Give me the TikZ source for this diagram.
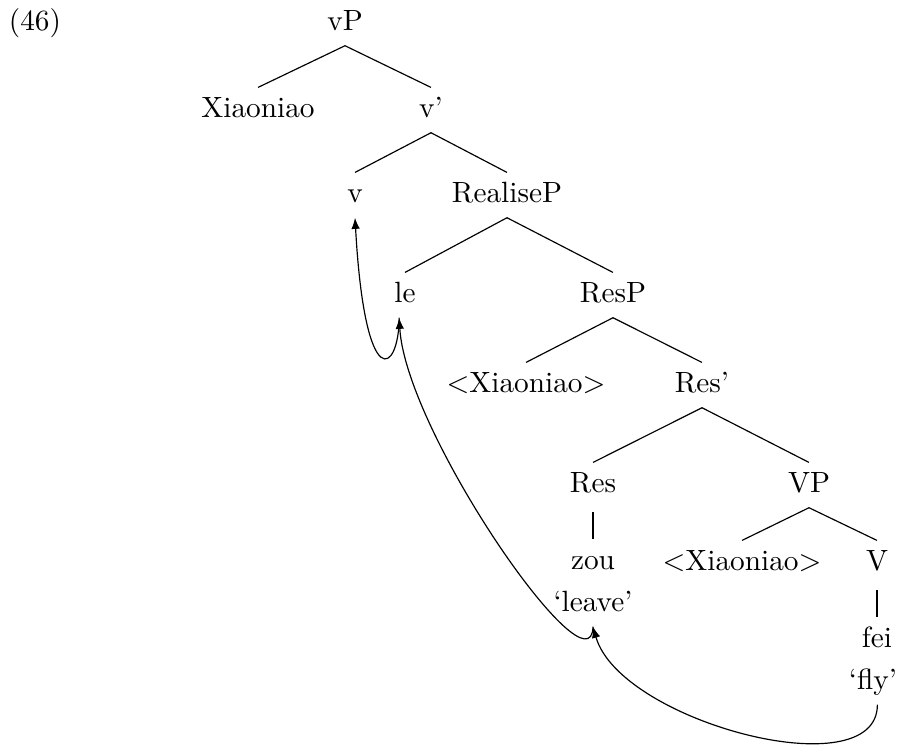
\documentclass[tikz,border=0pt]{standalone}
\usetikzlibrary{arrows.meta}
\begin{document}
\begin{tikzpicture}[x=0.3413pt,y=-0.3413pt,
  word/.style={anchor=base,text height=6.9pt,text depth=1.5pt,inner sep=3.33pt},
  move/.style={-{Latex[length=3.8pt,width=2.9pt]}}]
\useasboundingbox (0,0) rectangle (899,747);
\node[word] (ex) at (35,31) {(46)};
\node[word] (vP) at (345,31) {vP};
\node[word] (xiao) at (258,118) {Xiaoniao};
\node[word] (vbar) at (431,118) {v’};
\node[word] (v) at (355,203) {v};
\node[word] (realiseP) at (507,203) {RealiseP};
\node[word] (le) at (405,303) {le};
\node[word] (resP) at (613,303) {ResP};
\node[word] (xiaoRes) at (526,393) {<Xiaoniao>};
\node[word] (resbar) at (702,393) {Res’};
\node[word] (res) at (593,493) {Res};
\node[word] (VP) at (809,493) {VP};
\node[word] (zou) at (593,570) {zou};
\node[word] (leave) at (593,612) {‘leave’};
\node[word] (xiaoV) at (742,571) {<Xiaoniao>};
\node[word] (V) at (877,571) {V};
\node[word] (fei) at (877,648) {fei};
\node[word] (fly) at (873,690) {‘fly’};
\draw (vP.south) -- (xiao.north);
\draw (vP.south) -- (vbar.north);
\draw (vbar.south) -- (v.north);
\draw (vbar.south) -- (realiseP.north);
\draw (realiseP.south) -- (le.north);
\draw (realiseP.south) -- (resP.north);
\draw (resP.south) -- (xiaoRes.north);
\draw (resP.south) -- (resbar.north);
\draw (resbar.south) -- (res.north);
\draw (resbar.south) -- (VP.north);
\draw ([yshift=-1.5pt]res.south) -- (zou.north);
\draw (VP.south) -- (xiaoV.north);
\draw (VP.south) -- (V.north);
\draw ([yshift=-1.5pt]V.south) -- (fei.north);
\draw[move] ([xshift=-2pt]le.south) .. controls +(0,55) and +(10,180) .. (v.south);
\draw[move] (leave.south) .. controls +(-2,72) and +(7,116) .. ([xshift=-2pt]le.south);
\draw[move] ([xshift=1.5pt]fly.south) .. controls +(0,85) and +(27,95) .. (leave.south);
\end{tikzpicture}
\end{document}
